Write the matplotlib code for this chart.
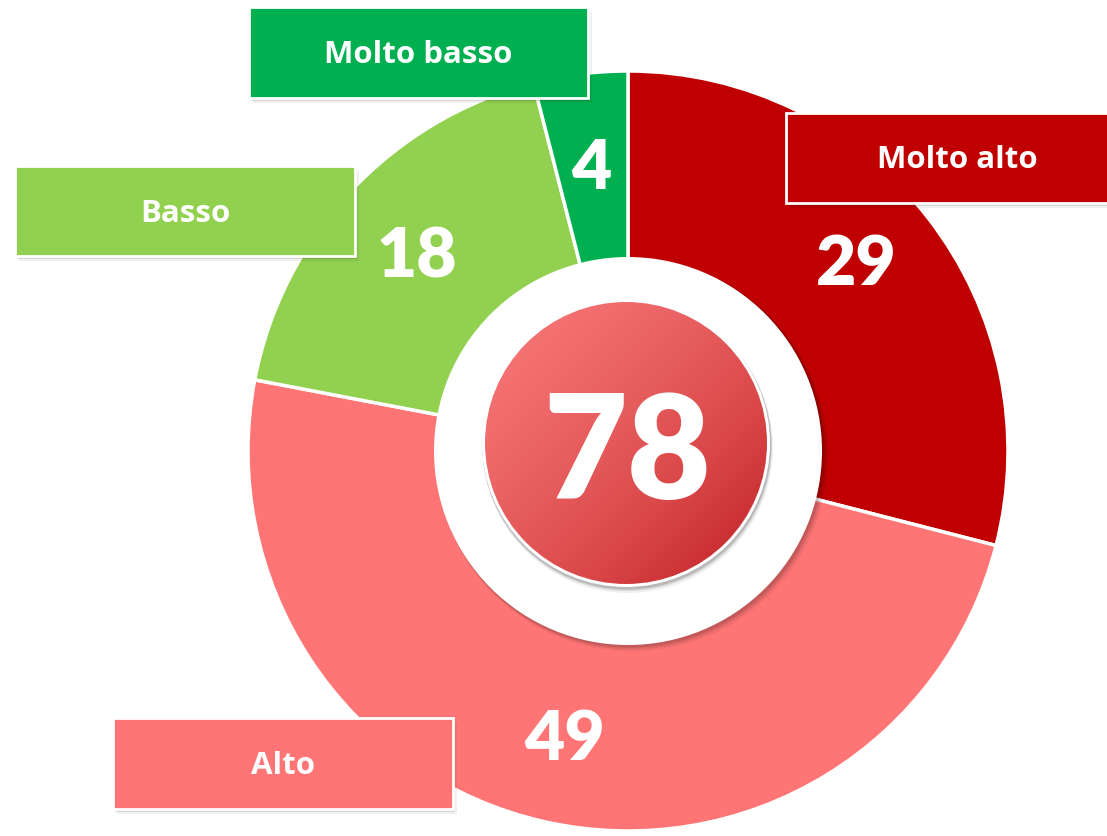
import matplotlib
matplotlib.use('Agg')
import matplotlib.pyplot as plt
import numpy as np
from matplotlib.patches import Rectangle, Circle
from matplotlib.colors import LinearSegmentedColormap

# ---- data ----
categories = ['Molto alto', 'Alto', 'Basso', 'Molto basso']
values = [29, 49, 18, 4]
colors = ['#C00000', '#FF7575', '#92D050', '#00B050']
center_value = 78

# ---- layout (pixels) ----
W, H = 1107, 836
NUMFONT = 'Lato'
LABFONT = 'Open Sans'
fig = plt.figure(figsize=(W / 100, H / 100), dpi=100)
ax = fig.add_axes([0, 0, 1, 1])
cx, cy = 628, H - 451
R = 380
hole = 190
width = R - hole

wedges, _ = ax.pie(values, colors=colors, startangle=90, counterclock=False,
                   radius=R, center=(cx, cy),
                   wedgeprops=dict(width=width, edgecolor='white', linewidth=2.5))

# value labels at wedge mid angle (small nudges per label: radius, angle)
nudge = {'Molto alto': (8, 2.2)}
total = sum(values)
cum = 0
lab_r = 290
for name, v in zip(categories, values):
    dr, da = nudge.get(name, (0, 0))
    mid = 90 - (cum + v / 2) / total * 360 + da
    cum += v
    a = np.deg2rad(mid)
    ax.text(cx + (lab_r + dr) * np.cos(a), cy + (lab_r + dr) * np.sin(a), str(v),
            ha='center', va='center_baseline', color='white',
            fontsize=50, fontweight=800, family=NUMFONT, zorder=10)

# white ring disc with soft shadow
for d, al in [(7, 0.05), (5, 0.08), (3, 0.12)]:
    ax.add_patch(Circle((cx + d * 0.6, cy - d * 0.6), 194 + d * 0.3,
                        facecolor='black', alpha=al, edgecolor='none', zorder=4))
ax.add_patch(Circle((cx, cy), 194, facecolor='white', edgecolor='none', zorder=5))

# inner gradient circle
icx, icy, ir = 626, H - 443, 141
for d, al in [(6, 0.06), (4, 0.1), (2.5, 0.14)]:
    ax.add_patch(Circle((icx + d * 0.3, icy - d * 0.8), ir + 3 + d * 0.2,
                        facecolor='black', alpha=al, edgecolor='none', zorder=6))
ax.add_patch(Circle((icx, icy), ir + 3, facecolor='white', edgecolor='none', zorder=7))
cmap = LinearSegmentedColormap.from_list('g', ['#FB7B7B', '#EC6566', '#DA4849', '#BF1E24'])
n = 400
xx, yy = np.meshgrid(np.linspace(0, 1, n), np.linspace(0, 1, n))
t = (xx + yy) / 2.0
img = ax.imshow(t, cmap=cmap, extent=(icx - ir, icx + ir, icy - ir, icy + ir),
                origin='upper', zorder=8, interpolation='bilinear')
clip = Circle((icx, icy), ir, transform=ax.transData)
img.set_clip_path(clip)
ax.text(icx + 1, icy - 2, str(center_value), ha='center', va='center_baseline',
        color='white', fontsize=104, fontweight=800, family=NUMFONT, zorder=10)

# category label boxes (x0, y_top, x1, y_bottom in pixel coords from top)
boxes = {
    'Molto basso': (249, 7, 588, 98),
    'Molto alto': (786, 113, 1130, 203),
    'Basso': (15, 166, 355, 256),
    'Alto': (113, 718, 453, 809),
}
text_x = {'Molto alto': 957}
for name, col in zip(categories, colors):
    x0, y0, x1, y1 = boxes[name]
    bx, by, bw, bh = x0, H - y1, x1 - x0, y1 - y0
    for d, al in [(6, 0.06), (4, 0.1), (2.5, 0.15)]:
        ax.add_patch(Rectangle((bx + d * 0.6, by - d * 0.8), bw, bh,
                               facecolor='black', alpha=al, edgecolor='none', zorder=11))
    ax.add_patch(Rectangle((bx, by), bw, bh, facecolor=col, edgecolor='white',
                           linewidth=2, zorder=12))
    tx = text_x.get(name, bx + bw / 2)
    ax.text(tx, by + bh / 2 + 1, name, ha='center', va='center_baseline', color='white',
            fontsize=22.5, fontweight='bold', family=LABFONT, zorder=13)

ax.set_xlim(0, W)
ax.set_ylim(0, H)
ax.set_aspect('equal')
ax.axis('off')
fig.savefig('out.png', dpi=100, facecolor='white')
